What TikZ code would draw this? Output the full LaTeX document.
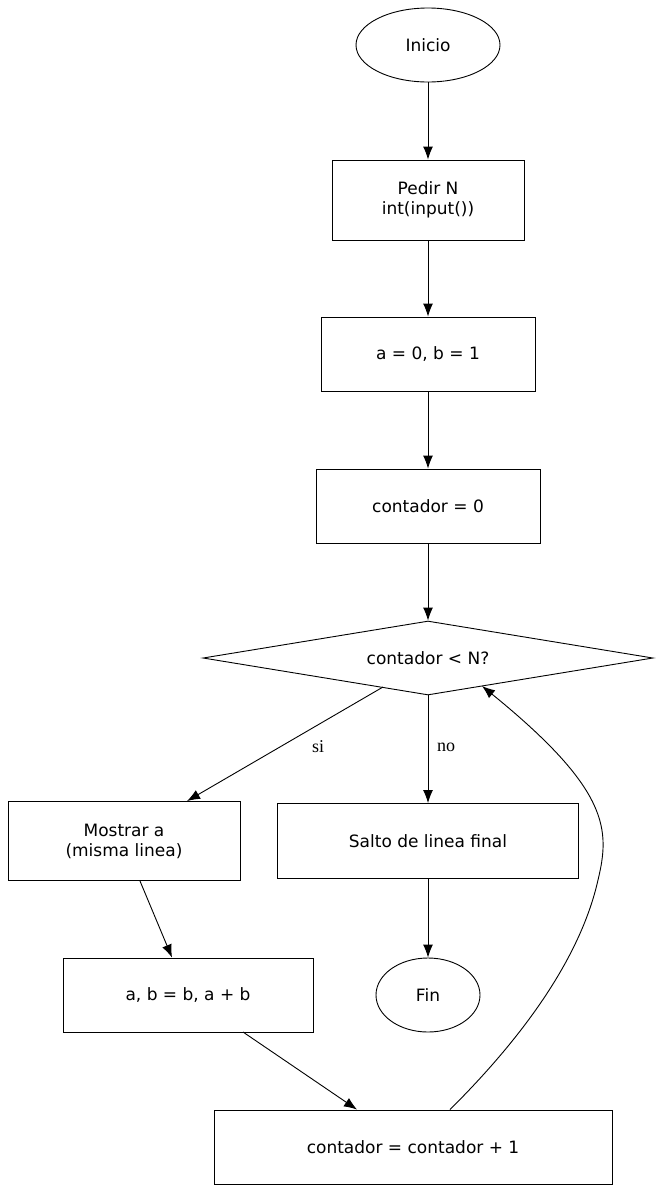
\documentclass[tikz,border=0pt]{standalone}
\usepackage{fontspec}
\setmainfont{DejaVu Sans}
\newfontfamily\lbl{Liberation Serif}
\usetikzlibrary{shapes.geometric,arrows.meta}
\begin{document}
\begin{tikzpicture}[x=1pt,y=-1pt,
  every node/.style={font=\fontsize{17}{20}\selectfont, align=center, inner sep=0pt},
  box/.style={draw, rectangle, thick, line width=0.9pt},
  ell/.style={draw, ellipse, line width=0.9pt},
  arr/.style={line width=0.9pt, -{Latex[length=13pt,width=10pt]}},
  lab/.style={font=\lbl\fontsize{18}{20}\selectfont}]
\useasboundingbox (0,0) rectangle (661,1194);
\node[ell, minimum width=144, minimum height=74] (ini) at (428,45) {Inicio};
\node[box, minimum width=192, minimum height=80] (pedir) at (428,200) {Pedir N\\int(input())};
\node[box, minimum width=214, minimum height=74] (ab0) at (428,354) {a = 0, b = 1};
\node[box, minimum width=224, minimum height=74] (c0) at (428,506) {contador = 0};
\node[draw, diamond, aspect=6.1, line width=0.9pt, minimum width=450, minimum height=74, inner sep=0pt] (d) at (428,658) {};
\node at (428,658) {contador < N?};
\node[box, minimum width=232, minimum height=79] (most) at (124,841) {Mostrar a\\(misma linea)};
\node[box, minimum width=301, minimum height=75] (salto) at (428,841) {Salto de linea final};
\node[box, minimum width=250, minimum height=74] (abn) at (188,995) {a, b = b, a + b};
\node[ell, minimum width=104, minimum height=74] (fin) at (428,995) {Fin};
\node[box, minimum width=398, minimum height=74] (inc) at (413,1147) {contador = contador + 1};
\draw[arr] (ini) -- (pedir);
\draw[arr] (pedir) -- (ab0);
\draw[arr] (ab0) -- (c0);
\draw[arr] (c0) -- (d);
\draw[arr] (383,687) -- (most.north -| 187,0) node[lab, pos=0.5, xshift=12, yshift=-4, anchor=south west] {};
\node[lab] at (318,747) {si};
\draw[arr] (d.south) -- (salto);
\node[lab] at (446,747) {no};
\draw[arr] (140,881) -- (abn.north -| 172,0);
\draw[arr] (salto) -- (fin);
\draw[arr] (243,1032) -- (inc.north -| 357,0);
\draw[arr] (inc.north -| 450,0) .. controls (520,1040) and (580,960) .. (598,880) .. controls (610,830) and (610,790) .. (482,686);
\end{tikzpicture}
\end{document}
